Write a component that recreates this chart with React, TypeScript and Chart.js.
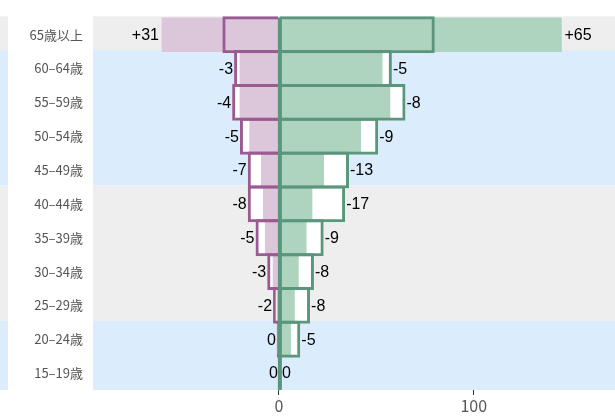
import React, { useEffect, useRef } from "react";
import { Chart, registerables } from "chart.js";

Chart.register(...registerables);

const ageGroups = ["65歳以上", "60–64歳", "55–59歳", "50–54歳", "45–49歳", "40–44歳", "35–39歳", "30–34歳", "25–29歳", "20–24歳", "15–19歳"];
// filled (light) bars and outlined bars
const femaleFilled = [60, 20, 20, 15, 9, 8, 7, 3, 1, 1, 0];
const femaleOutline = [29, 23, 24, 20, 16, 16, 12, 6, 3, 1, 0];
const maleFilled = [145, 53, 57, 42, 23, 17, 14, 10, 8, 6, 0];
const maleOutline = [80, 58, 65, 51, 36, 34, 23, 18, 16, 11, 0];
const xTickValues = [0, 100];
// background band groups: [first row index, last row index, color key]
const bandGroups: [number, number, string][] = [
  [0, 0, "gray"],
  [1, 4, "blue"],
  [5, 8, "gray"],
  [9, 10, "blue"],
];

const COLORS = {
  gray: "#eeeeee",
  blue: "#dbecfd",
  femaleFill: "#dcc6da",
  femaleLine: "#9a5a92",
  maleFill: "#aed3bf",
  maleLine: "#5a967b",
};

const fmt = (d: number) => (d > 0 ? "+" + d : String(d));

export default function App() {
  const ref = useRef<HTMLCanvasElement | null>(null);
  useEffect(() => {
    if (!ref.current) return;
    const bgPlugin = {
      id: "bands",
      beforeDraw(chart: any) {
        const { ctx, chartArea, scales } = chart;
        const y = scales.y;
        const half = (y.getPixelForValue(1) - y.getPixelForValue(0)) / 2;
        ctx.save();
        bandGroups.forEach(([a, b, c], gi) => {
          const top = y.getPixelForValue(a) - half - 1.5;
          let bot = y.getPixelForValue(b) + half - 1.5;
          if (gi === bandGroups.length - 1) bot = chartArea.bottom;
          ctx.fillStyle = (COLORS as any)[c];
          ctx.fillRect(0, top, chart.width, bot - top);
        });
        ctx.fillStyle = "#ffffff";
        ctx.fillRect(8, 0, chartArea.left - 8, chart.height);
        ctx.restore();
      },
    };
    const labelPlugin = {
      id: "diffLabels",
      afterDatasetsDraw(chart: any) {
        const { ctx, chartArea, scales } = chart;
        const x = scales.x;
        const y = scales.y;
        const x0 = x.getPixelForValue(0);
        ctx.save();
        ctx.fillStyle = COLORS.maleLine;
        ctx.fillRect(x0 - 1, chartArea.top, 4, chartArea.bottom - chartArea.top);
        ctx.font = "16px 'Liberation Sans', Arial, sans-serif";
        ctx.fillStyle = "#000";
        ctx.textBaseline = "middle";
        ageGroups.forEach((_, i) => {
          const yy = y.getPixelForValue(i) + 1;
          const fMax = Math.max(femaleFilled[i], femaleOutline[i]);
          const fOff = femaleFilled[i] > femaleOutline[i] ? 3 : 1;
          ctx.textAlign = "right";
          ctx.fillText(fmt(femaleFilled[i] - femaleOutline[i]), x.getPixelForValue(-fMax) - fOff, yy);
          const mMax = Math.max(maleFilled[i], maleOutline[i]);
          const mOff = maleFilled[i] > maleOutline[i] ? 3 : 1;
          ctx.textAlign = "left";
          ctx.fillText(fmt(maleFilled[i] - maleOutline[i]), x.getPixelForValue(mMax) + mOff + (mMax === 0 ? 2 : 0), yy);
        });
        ctx.restore();
      },
    };
    const common = { grouped: false, categoryPercentage: 1, clip: false as any };
    const outlinePct = 1.09;
    const chart = new Chart(ref.current, {
      type: "bar",
      data: {
        labels: ageGroups,
        datasets: [
          { ...common, label: "女性枠", data: femaleOutline.map((v) => -v), backgroundColor: "rgba(0,0,0,0)", borderColor: COLORS.femaleLine, borderWidth: 3, barPercentage: outlinePct, order: 0 },
          { ...common, label: "男性枠", data: maleOutline, backgroundColor: "rgba(0,0,0,0)", borderColor: COLORS.maleLine, borderWidth: 3, barPercentage: outlinePct, order: 0 },
          { ...common, label: "女性", data: femaleFilled.map((v) => -v), backgroundColor: COLORS.femaleFill, borderWidth: 0, barPercentage: 1, order: 1 },
          { ...common, label: "男性", data: maleFilled, backgroundColor: COLORS.maleFill, borderWidth: 0, barPercentage: 1, order: 1 },
          { ...common, label: "女性白", data: femaleOutline.map((v) => -v), backgroundColor: "#ffffff", borderWidth: 0, barPercentage: outlinePct, order: 2 },
          { ...common, label: "男性白", data: maleOutline, backgroundColor: "#ffffff", borderWidth: 0, barPercentage: outlinePct, order: 2 },
        ],
      },
      options: {
        indexAxis: "y",
        animation: false,
        responsive: true,
        maintainAspectRatio: false,
        layout: { padding: { top: 17, left: 0, right: 0, bottom: 0 } },
        plugins: { legend: { display: false }, tooltip: { enabled: false }, title: { display: false } },
        scales: {
          x: {
            min: -95.4,
            max: 172.5,
            afterBuildTicks: (s: any) => {
              s.ticks = xTickValues.map((v) => ({ value: v }));
            },
            afterFit: (s: any) => {
              s.height = 27;
            },
            grid: { drawOnChartArea: false, drawTicks: true, tickLength: 5, color: "#333" },
            border: { display: false },
            ticks: { color: "#555", font: { size: 16, family: "'Noto Sans CJK JP', sans-serif" }, padding: 1, maxRotation: 0 },
          },
          y: {
            afterFit: (s: any) => {
              s.width = 93;
            },
            grid: { display: false, drawTicks: false },
            border: { display: false },
            ticks: { color: "#555", font: { size: 13, family: "'Noto Sans CJK JP', sans-serif" }, padding: 10 },
          },
        },
      },
      plugins: [bgPlugin, labelPlugin],
    });
    return () => chart.destroy();
  }, []);
  return (
    <div style={{ position: "fixed", left: 0, top: 0, width: 615, height: 417, background: "#fff" }}>
      <canvas ref={ref} />
    </div>
  );
}
